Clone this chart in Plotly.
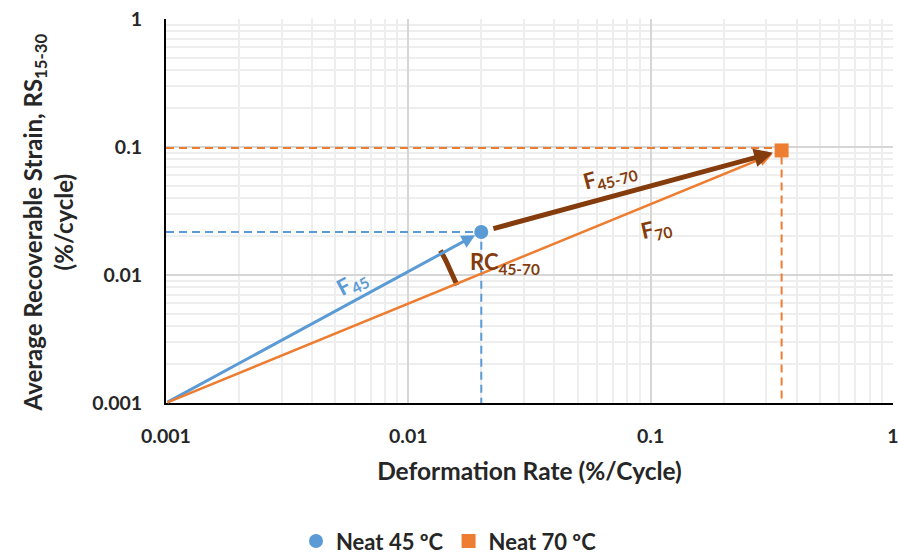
import numpy as np
import plotly.graph_objects as go

# ---- data ----
origin = [0.001, 0.001]
neat45 = [0.0200, 0.0217]   # (deformation rate, recoverable strain)
neat70 = [0.347, 0.094]
guide70_y = 0.098
series_names = ["Neat 45 ºC", "Neat 70 ºC"]
x_ticks = [0.001, 0.01, 0.1, 1]
x_ticklabels = ["0.001", "0.01", "0.1", "1"]
y_ticks = [0.001, 0.01, 0.1, 1]
y_ticklabels = ["0.001", "0.01", "0.1", "1"]

BLUE = "#5B9BD5"
ORANGE = "#ED7D31"
BROWN = "#843C0C"
FONT = "Lato"
TXT = "#262626"

W, H = 898, 554
L, R, T, B = 166, 5, 19, 151
pw, ph = W - L - R, H - T - B
XR, YR = [-3, 0], [-3, 0]
ppd_x = pw / (XR[1] - XR[0])
ppd_y = ph / (YR[1] - YR[0])

fig = go.Figure()

# dashed guide lines
fig.add_trace(go.Scatter(x=[origin[0], neat45[0], neat45[0]], y=[neat45[1], neat45[1], origin[1]],
                         mode="lines", line=dict(color=BLUE, width=2, dash="8px,5px"),
                         showlegend=False, hoverinfo="skip"))
fig.add_trace(go.Scatter(x=[origin[0], neat70[0], neat70[0]], y=[guide70_y, guide70_y, 0.00108],
                         mode="lines", line=dict(color=ORANGE, width=2, dash="8px,5px"),
                         showlegend=False, hoverinfo="skip"))

# RC arc between the two vectors (circular in pixel space around origin)
lo = np.log10
a_blue = np.arctan2((lo(neat45[1]) - lo(origin[1])) * ppd_y, (lo(neat45[0]) - lo(origin[0])) * ppd_x)
a_or = np.arctan2((lo(neat70[1]) - lo(origin[1])) * ppd_y, (lo(neat70[0]) - lo(origin[0])) * ppd_x)
r_px = 314
th = np.linspace(a_or - 0.005, a_blue + 0.01, 20)
arc_x = 10 ** (lo(origin[0]) + r_px * np.cos(th) / ppd_x)
arc_y = 10 ** (lo(origin[1]) + r_px * np.sin(th) / ppd_y)
fig.add_trace(go.Scatter(x=arc_x, y=arc_y, mode="lines", line=dict(color=BROWN, width=5),
                         showlegend=False, hoverinfo="skip"))

# points
fig.add_trace(go.Scatter(x=[neat45[0]], y=[neat45[1]], mode="markers", name=series_names[0],
                         marker=dict(symbol="circle", size=14, color=BLUE)))
fig.add_trace(go.Scatter(x=[neat70[0]], y=[neat70[1]], mode="markers", name=series_names[1],
                         marker=dict(symbol="square", size=14, color=ORANGE)))

def arrow(p_from, p_to, color, width, size, standoff, startstandoff=0):
    fig.add_annotation(x=lo(p_to[0]), y=lo(p_to[1]), ax=lo(p_from[0]), ay=lo(p_from[1]),
                       xref="x", yref="y", axref="x", ayref="y", text="", showarrow=True,
                       arrowhead=2, arrowsize=size, arrowwidth=width, arrowcolor=color,
                       standoff=standoff, startstandoff=startstandoff)

arrow(origin, neat45, BLUE, 3, 0.9, 7)
arrow(origin, neat70, ORANGE, 2.5, 1.1, 10)
arrow(neat45, neat70, BROWN, 5, 0.75, 9, 11)

def label(px, py, text, color, angle=0, size=22):
    fig.add_annotation(x=XR[0] + (px - L) / ppd_x, y=YR[0] + (H - B - py) / ppd_y,
                       xref="x", yref="y", text=text, showarrow=False, textangle=angle,
                       font=dict(family=FONT, size=size, color=color, weight="bold"))

label(352, 283, "F<sub>45</sub>", BLUE, -28)
label(610, 176, "F<sub>45-70</sub>", BROWN, -15)
label(656, 229, "F<sub>70</sub>", BROWN, -13)
label(505, 263, "RC<sub>45-70</sub>", BROWN, 0)

# y-axis title (placed as paper annotation to match reference offset)
fig.add_annotation(x=(47.5 - L) / pw, y=(H - B - 223) / ph, xref="paper", yref="paper",
                   text="Average Recoverable Strain, RS<sub>15-30</sub><br>(%/cycle)",
                   showarrow=False, textangle=-90, xanchor="center", yanchor="middle",
                   font=dict(family=FONT, size=24, color=TXT, weight="bold"))

axis_common = dict(type="log", showline=True, linecolor="black", linewidth=2, mirror=False,
                   gridcolor="#D6D6D6", gridwidth=1.5, zeroline=False, automargin=False,
                   ticks="outside", tickcolor="rgba(0,0,0,0)",
                   tickfont=dict(family=FONT, size=19.5, color=TXT, weight="bold"),
                   minor=dict(dtick="D1", showgrid=True, gridcolor="#EEEEEE", gridwidth=1.5, ticks=""))

fig.update_xaxes(range=XR, tickvals=x_ticks, ticktext=x_ticklabels, ticklen=15,
                 ticklabeloverflow="allow",
                 title=dict(text="Deformation Rate (%/Cycle)", standoff=16,
                            font=dict(family=FONT, size=24.5, color=TXT, weight="bold")),
                 **axis_common)
fig.update_yaxes(range=YR, tickvals=y_ticks, ticktext=y_ticklabels, ticklen=18, **axis_common)

fig.update_layout(width=W, height=H, margin=dict(l=L, r=R, t=T, b=B),
                  paper_bgcolor="white", plot_bgcolor="white",
                  legend=dict(orientation="h", xref="container", yref="container", x=0.5, y=0.023,
                              xanchor="center", yanchor="middle", itemwidth=30,
                              font=dict(family=FONT, size=22, color=TXT, weight="bold")),
                  showlegend=True)

fig.write_html("out.html")
